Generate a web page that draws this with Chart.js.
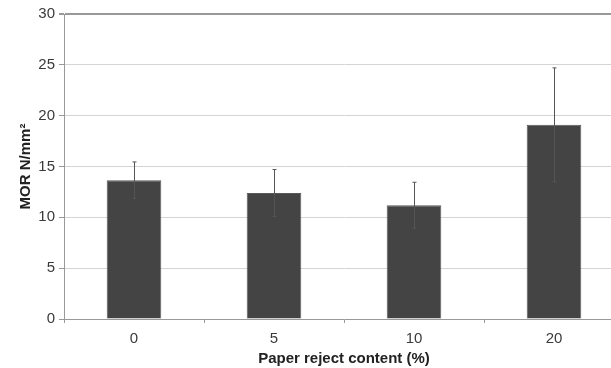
<!DOCTYPE html>
<html>
<head>
<meta charset="utf-8">
<script src="https://cdn.jsdelivr.net/npm/chart.js@4"></script>
<style>
  html, body { margin: 0; padding: 0; background: #fff; overflow: hidden; }
  #wrap { width: 626px; height: 368px; }
</style>
</head>
<body>
<div id="wrap"><canvas id="chart"></canvas></div>
<script>
const categories = ["0", "5", "10", "20"];
const morValues = [13.65, 12.4, 11.2, 19.1];
const morErrors = [1.8, 2.3, 2.25, 5.6];
const yTicks = [0, 5, 10, 15, 20, 25, 30];

// error bars drawn on top of the bars, using the chart's own y scale
const errorBars = {
    id: 'errorBars',
    afterDatasetsDraw(chart) {
        const ctx = chart.ctx;
        const y = chart.scales.y;
        const meta = chart.getDatasetMeta(0);
        ctx.save();
        ctx.strokeStyle = '#555';
        ctx.lineWidth = 1;
        meta.data.forEach((bar, i) => {
            const x = Math.round(bar.x) + 0.5;
            const top = y.getPixelForValue(morValues[i] + morErrors[i]);
            const bot = y.getPixelForValue(morValues[i] - morErrors[i]);
            ctx.beginPath();
            ctx.moveTo(x, top);
            ctx.lineTo(x, bot);
            ctx.moveTo(x - 2, top);
            ctx.lineTo(x + 2, top);
            ctx.moveTo(x - 2, bot);
            ctx.lineTo(x + 2, bot);
            ctx.stroke();
        });
        ctx.restore();
    }
};

new Chart(document.getElementById('chart'), {
    type: 'bar',
    data: {
        labels: categories,
        datasets: [{
            data: morValues,
            backgroundColor: '#444444',
            borderColor: '#5a5a5a',
            borderWidth: 1,
            categoryPercentage: 1,
            barPercentage: 0.39
        }]
    },
    options: {
        responsive: true,
        maintainAspectRatio: false,
        animation: false,
        layout: { padding: { top: 14, right: 2, left: 0, bottom: 0 } },
        plugins: {
            legend: { display: false },
            tooltip: { enabled: false }
        },
        scales: {
            x: {
                grid: {
                    offset: true,
                    drawOnChartArea: false,
                    tickLength: 4,
                    color: '#999'
                },
                border: { color: '#999', width: 1 },
                ticks: {
                    color: '#3a3a3a',
                    font: { family: 'Liberation Sans', size: 15 },
                    padding: 7
                },
                title: {
                    display: true,
                    text: 'Paper reject content (%)',
                    color: '#222',
                    font: { family: 'Liberation Sans', size: 15, weight: 'bold' },
                    padding: { top: 0, bottom: 0 }
                },
                afterFit(scale) { scale.height = 49; }
            },
            y: {
                min: 0,
                max: 30,
                afterBuildTicks(scale) {
                    scale.ticks = yTicks.map(v => ({ value: v }));
                },
                grid: {
                    color: ctx => ctx.tick && ctx.tick.value === 30 ? '#999' : '#d4d4d4',
                    lineWidth: ctx => ctx.tick && ctx.tick.value === 30 ? 2 : 1,
                    tickColor: '#999',
                    tickLength: 5
                },
                border: { color: '#999', width: 1 },
                ticks: {
                    color: '#3a3a3a',
                    font: { family: 'Liberation Sans', size: 15 },
                    padding: 4
                },
                title: {
                    display: true,
                    text: 'MOR N/mm²',
                    color: '#222',
                    font: { family: 'Liberation Sans', size: 15, weight: 'bold' },
                    padding: { top: 17, bottom: 2 }
                },
                afterFit(scale) { scale.width = 64; }
            }
        }
    },
    plugins: [errorBars]
});
</script>
</body>
</html>
